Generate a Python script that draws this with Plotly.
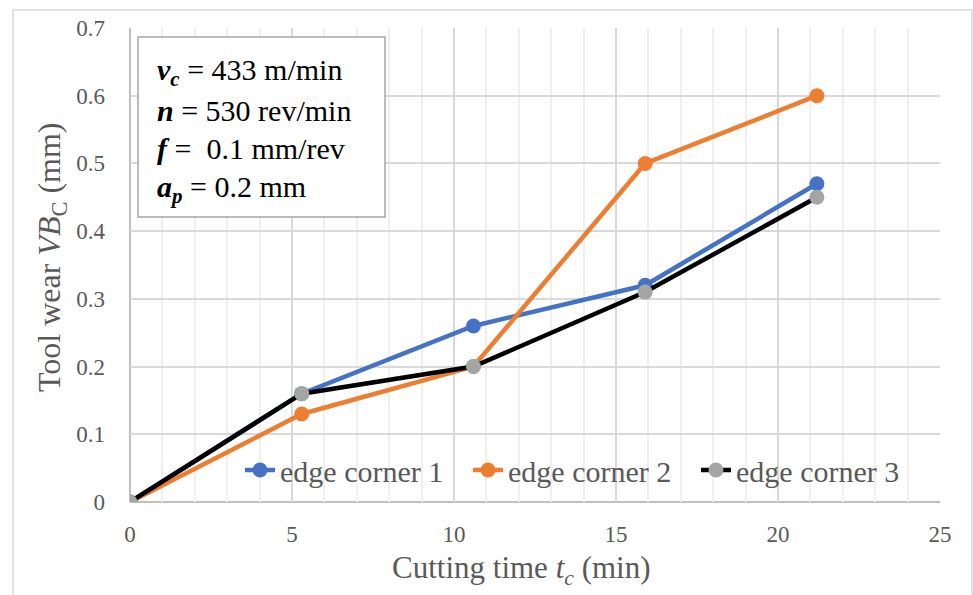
import plotly.graph_objects as go

time_min = [0, 5.3, 10.6, 15.9, 21.2]
corner1 = [0, 0.16, 0.26, 0.32, 0.47]
corner2 = [0, 0.13, 0.20, 0.50, 0.60]
corner3 = [0, 0.16, 0.20, 0.31, 0.45]
series_names = ["edge corner 1", "edge corner 2", "edge corner 3"]
x_ticks = [0, 5, 10, 15, 20, 25]
y_ticks = [0, 0.1, 0.2, 0.3, 0.4, 0.5, 0.6, 0.7]
y_tick_text = ["0", "0.1", "0.2", "0.3", "0.4", "0.5", "0.6", "0.7"]
param_lines = [
    "<b><i>v</i></b><sub><b><i>c</i></b></sub> = 433 m/min",
    "<b><i>n</i></b> = 530 rev/min",
    "<b><i>f</i></b> =  0.1 mm/rev",
    "<b><i>a</i></b><sub><b><i>p</i></b></sub> = 0.2 mm",
]
x_title = "Cutting time <i>t</i><sub><i>c</i></sub> (min)"
y_title = "Tool wear <i>VB</i><sub>C</sub> (mm)"

FONT = "Liberation Serif"
GREY = "#595959"
L, R, T, B = 130, 33, 28, 93
PW, PH = 973 - L - R, 595 - T - B


def px(x):
    return (x - L) / PW


def py(y):
    return (595 - B - y) / PH


fig = go.Figure()
styles = [("#4472C4", "#4472C4"), ("#ED7D31", "#ED7D31"), ("#000000", "#A5A5A5")]
for name, ys, (lc, mc) in zip(series_names, [corner1, corner2, corner3], styles):
    fig.add_trace(go.Scatter(
        x=time_min, y=ys, name=name, mode="lines+markers",
        line=dict(color=lc, width=4.5),
        marker=dict(color=mc, size=15),
    ))

fig.update_layout(
    width=973, height=595,
    margin=dict(l=L, r=R, t=T, b=B),
    paper_bgcolor="white", plot_bgcolor="white",
    font=dict(family=FONT, color=GREY, size=23),
    showlegend=True,
    legend=dict(orientation="h", x=px(240), y=py(470), xanchor="left", yanchor="middle",
                bgcolor="rgba(0,0,0,0)", font=dict(size=30, color=GREY),
                itemwidth=30, tracegroupgap=0, entrywidth=183, entrywidthmode="pixels"),
    xaxis=dict(range=[0, 25], tickvals=x_ticks, showgrid=True, gridcolor="#d9d9d9",
               gridwidth=1.5, zeroline=False, showline=False, ticks="",
               minor=dict(dtick=1, showgrid=True, gridcolor="#efefef", gridwidth=1.5),
               tickfont=dict(size=23), ticklabelstandoff=16, fixedrange=True),
    yaxis=dict(range=[0, 0.7], tickvals=y_ticks, ticktext=y_tick_text,
               showgrid=True, gridcolor="#d9d9d9", gridwidth=1.5, zeroline=False,
               showline=False, ticks="", ticklabelstandoff=24,
               tickfont=dict(size=23), fixedrange=True),
)

# axis titles
fig.add_annotation(xref="paper", yref="paper", x=px(521), y=py(570), text=x_title,
                   showarrow=False, xanchor="center", yanchor="middle",
                   font=dict(family=FONT, size=31, color=GREY))
fig.add_annotation(xref="paper", yref="paper", x=px(51), y=py(257), text=y_title,
                   showarrow=False, xanchor="center", yanchor="middle", textangle=-90,
                   font=dict(family=FONT, size=32, color=GREY))

# axis lines
fig.add_shape(type="line", xref="paper", yref="paper", x0=0, x1=1, y0=0, y1=0,
              line=dict(color="#bfbfbf", width=2), layer="below")
fig.add_shape(type="line", xref="paper", yref="paper", x0=0, x1=0, y0=0, y1=1,
              line=dict(color="#bfbfbf", width=2), layer="below")

# outer chart border
fig.add_shape(type="rect", xref="paper", yref="paper",
              x0=px(13), x1=px(972), y0=py(600), y1=py(10),
              line=dict(color="#d9d9d9", width=1.5), fillcolor="rgba(0,0,0,0)")

# parameter box
fig.add_shape(type="rect", xref="paper", yref="paper",
              x0=px(138), x1=px(385), y0=py(217), y1=py(37),
              line=dict(color="#a6a6a6", width=1.5), fillcolor="white")
for txt, yc in zip(param_lines, [72, 110, 148, 189]):
    fig.add_annotation(xref="paper", yref="paper", x=px(155), y=py(yc),
                       xanchor="left", yanchor="middle", text=txt, showarrow=False,
                       font=dict(family=FONT, size=30, color="#000000"), align="left")

fig.write_html("out.html", post_script="document.body.style.margin='0px';",
               config={"displayModeBar": False})
